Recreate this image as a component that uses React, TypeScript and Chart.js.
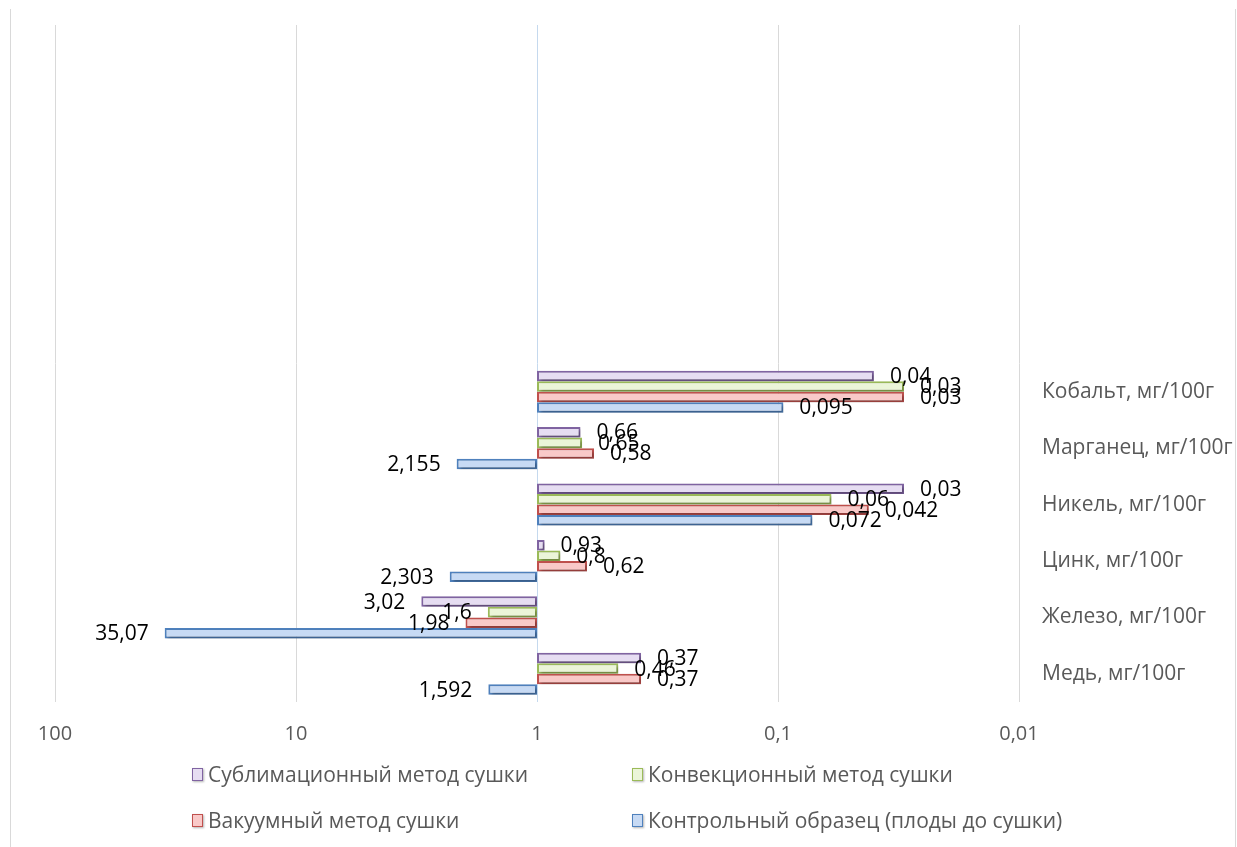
import React, { useEffect, useRef } from 'react';
import { Chart, registerables } from 'chart.js';

Chart.register(...registerables);

// ---------- data ----------
const categories = [
  'Кобальт, мг/100г',
  'Марганец, мг/100г',
  'Никель, мг/100г',
  'Цинк, мг/100г',
  'Железо, мг/100г',
  'Медь, мг/100г',
];
const emptyRowsAbove = 6;

const sublimation = [0.04, 0.66, 0.03, 0.93, 3.02, 0.37];
const convection = [0.03, 0.65, 0.06, 0.8, 1.6, 0.46];
const vacuum = [0.03, 0.58, 0.042, 0.62, 1.98, 0.37];
const control = [0.095, 2.155, 0.072, 2.303, 35.07, 1.592];

const seriesNames = [
  'Сублимационный метод сушки',
  'Конвекционный метод сушки',
  'Вакуумный метод сушки',
  'Контрольный образец (плоды до сушки)',
];

const xTickValues = [100, 10, 1, 0.1, 0.01];
const barOrigin = 1;

// ---------- styles ----------
const FONT = '"Open Sans"';
const fills = ['#e6ddf2', '#ebf5d8', '#f9c9c8', '#c7daf4'];
const borders = ['#8064a2', '#9bbb59', '#c0504d', '#4f81bd'];

const fmt = (v: number) => String(v).replace('.', ',');

const shadowPlugin = {
  id: 'barShadow',
  beforeDatasetsDraw(chart: any) {
    const ctx = chart.ctx;
    ctx.save();
    ctx.shadowColor = 'rgba(0,0,0,0.30)';
    ctx.shadowBlur = 3;
    ctx.shadowOffsetX = 2;
    ctx.shadowOffsetY = 2;
  },
  afterDatasetsDraw(chart: any) {
    chart.ctx.restore();
  },
};

const labelPlugin = {
  id: 'valueLabels',
  afterDatasetsDraw(chart: any) {
    const ctx = chart.ctx;
    const xs = chart.scales.x;
    ctx.save();
    ctx.font = `21px ${FONT}`;
    ctx.fillStyle = '#000000';
    ctx.textBaseline = 'middle';
    chart.data.datasets.forEach((ds: any, di: number) => {
      const meta = chart.getDatasetMeta(di);
      meta.data.forEach((el: any, i: number) => {
        const raw = ds.data[i];
        if (!raw) return;
        const v = raw[1];
        const txt = fmt(v);
        const px = xs.getPixelForValue(v);
        if (v < barOrigin) {
          ctx.textAlign = 'left';
          ctx.fillText(txt, px + 16, el.y + 1);
        } else {
          ctx.textAlign = 'right';
          ctx.fillText(txt, px - 16, el.y + 1);
        }
      });
    });
    ctx.restore();
  },
};

export default function App() {
  const canvasRef = useRef<HTMLCanvasElement | null>(null);

  useEffect(() => {
    if (!canvasRef.current) return;
    const labels = [...Array(emptyRowsAbove).fill(''), ...categories];
    const pad = Array(emptyRowsAbove).fill(null);
    const all = [sublimation, convection, vacuum, control];
    const datasets = all.map((vals, k) => ({
      label: seriesNames[k],
      data: [...pad, ...vals.map((v) => [barOrigin, v])],
      backgroundColor: fills[k],
      borderColor: borders[k],
      borderWidth: 2,
      borderSkipped: false,
      categoryPercentage: 0.745,
      barPercentage: 1,
    }));

    const chart = new Chart(canvasRef.current, {
      type: 'bar',
      data: { labels, datasets: datasets as any },
      plugins: [shadowPlugin, labelPlugin],
      options: {
        animation: false,
        responsive: false,
        indexAxis: 'y',
        layout: { padding: { left: 55, top: 25, right: 0, bottom: 0 } },
        plugins: {
          legend: { display: false },
          tooltip: { enabled: false },
        },
        scales: {
          x: {
            type: 'logarithmic',
            min: 0.01,
            max: 100,
            reverse: true,
            afterBuildTicks(scale: any) {
              scale.ticks = xTickValues.map((v) => ({ value: v }));
            },
            afterFit(scale: any) {
              scale.height = 145;
              scale.paddingLeft = 0;
              scale.paddingRight = 0;
            },
            grid: {
              drawTicks: false,
              lineWidth: 1,
              color: (c: any) => (c.tick && c.tick.value === 1 ? '#c5d9ee' : '#d9d9d9'),
            },
            border: { display: false },
            ticks: {
              color: '#595959',
              font: { family: FONT, size: 20 },
              padding: 20,
              autoSkip: false,
              maxRotation: 0,
              callback: (v: any) => fmt(Number(v)),
            },
          },
          y: {
            position: 'right',
            grid: { display: false, drawTicks: false },
            border: { display: false },
            afterFit(scale: any) {
              scale.width = 1237 - 1019;
              scale.paddingTop = 0;
              scale.paddingBottom = 0;
            },
            ticks: {
              color: '#595959',
              font: { family: FONT, size: 21 },
              padding: 23,
              crossAlign: 'near',
              autoSkip: false,
            },
          },
        },
      },
    });
    return () => chart.destroy();
  }, []);

  const legendItems = [
    { k: 0, left: 192, top: 774 },
    { k: 1, left: 632, top: 774 },
    { k: 2, left: 192, top: 820 },
    { k: 3, left: 632, top: 820 },
  ];

  return (
    <div
      style={{
        position: 'fixed',
        left: 0,
        top: 0,
        width: 1237,
        height: 847,
        background: '#ffffff',
        fontFamily: FONT,
        overflow: 'hidden',
      }}
    >
      <div style={{ position: 'absolute', left: 10, top: 9, width: 0, height: 838, borderLeft: '1.5px solid #d9d9d9' }} />
      <div style={{ position: 'absolute', left: 1235, top: 9, width: 0, height: 838, borderLeft: '1.5px solid #d9d9d9' }} />
      <canvas
        ref={canvasRef}
        width={1237}
        height={847}
        style={{ position: 'absolute', left: 0, top: 0, width: 1237, height: 847 }}
      />
      {legendItems.map(({ k, left, top }) => (
        <div
          key={k}
          style={{
            position: 'absolute',
            left,
            top: top - 12,
            height: 24,
            display: 'flex',
            alignItems: 'center',
            whiteSpace: 'nowrap',
            color: '#595959',
            fontSize: 21,
            lineHeight: '24px',
          }}
        >
          <span
            style={{
              display: 'inline-block',
              width: 9,
              height: 11,
              background: fills[k],
              border: `1.5px solid ${borders[k]}`,
              boxShadow: '1px 1px 2px rgba(0,0,0,0.3)',
              marginRight: 5,
            }}
          />
          <span>{seriesNames[k]}</span>
        </div>
      ))}
    </div>
  );
}
